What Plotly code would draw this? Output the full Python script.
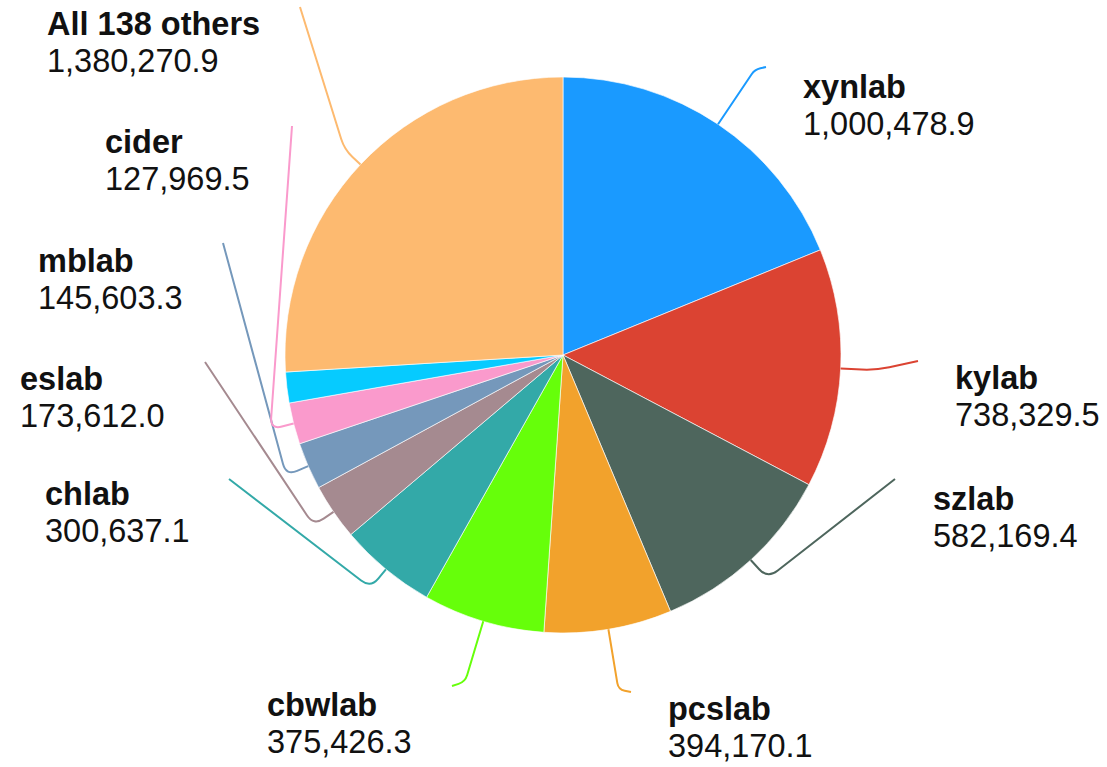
import math
import plotly.graph_objects as go

# ---------------- data ----------------
labels = ["xynlab", "kylab", "szlab", "pcslab", "cbwlab", "chlab",
          "eslab", "mblab", "cider", "(unlabeled)", "All 138 others"]
values = [1000478.9, 738329.5, 582169.4, 394170.1, 375426.3, 300637.1,
          173612.0, 145603.3, 127969.5, 95000.0, 1380270.9]
colors = ["#1A9AFF", "#DB4332", "#4E665D", "#F2A22C", "#66FF0A", "#33A9A8",
          "#A58A90", "#7598BB", "#FA9ACC", "#06CBFF", "#FDBA70"]

# ---------------- layout (pixels) ----------------
W, H = 1107, 767
CX, CY, R = 563, 355, 278

# label: (left x, top y of glyphs)
label_pos = {
    "xynlab": (803, 78), "kylab": (955, 369), "szlab": (933, 490),
    "pcslab": (668, 700), "cbwlab": (267, 696), "chlab": (45, 485),
    "eslab": (20, 370), "mblab": (38, 252), "cider": (105, 133),
    "All 138 others": (47, 15),
}
# leader: (radial length, end x, end y)
leader = {
    "xynlab": (66, 766, 67), "kylab": (35, 918, 361), "szlab": (25, 895, 479),
    "pcslab": (61, 631, 692), "cbwlab": (63, 452, 686), "chlab": (24, 229, 479),
    "eslab": (24, 205, 362), "mblab": (24, 223, 243), "cider": (24, 292, 126),
    "All 138 others": (22, 300, 7),
}

FONT = "Liberation Sans"
FS = 32.5          # glyph size
LINE_GAP = 36.6    # distance between the two lines
BASE_FS = LINE_GAP / 1.3   # annotation font size controlling line spacing
TOP_OFF = 11


def px(x, y):
    return x / W, 1 - y / H


fig = go.Figure(go.Pie(
    labels=labels, values=values, sort=False, direction="clockwise",
    rotation=0, textinfo="none", hoverinfo="label+value",
    marker=dict(colors=colors, line=dict(color="rgba(255,255,255,0.8)", width=0.8)),
    domain=dict(x=[(CX - R) / W, (CX + R) / W], y=[1 - (CY + R) / H, 1 - (CY - R) / H]),
    showlegend=False,
))

total = sum(values)
cum = 0.0
shapes = []
annotations = []
for lab, val, col in zip(labels, values, colors):
    start = cum
    cum += val
    if lab not in label_pos:
        continue
    mid = (start + val / 2) / total * 2 * math.pi
    ux, uy = math.sin(mid), -math.cos(mid)
    p0 = (CX + R * ux, CY + R * uy)
    L, ex, ey = leader[lab]
    p1 = (p0[0] + L * ux, p0[1] + L * uy)
    p2 = (ex, ey)
    v12 = (p2[0] - p1[0], p2[1] - p1[1])
    d12 = math.hypot(*v12)
    d = min(14, L / 2, d12 / 2)
    a = (p1[0] - d * ux, p1[1] - d * uy)
    b = (p1[0] + d * v12[0] / d12, p1[1] + d * v12[1] / d12)
    q = [px(*p) for p in (p0, a, p1, b, p2)]
    path = (f"M {q[0][0]:.5f},{q[0][1]:.5f} L {q[1][0]:.5f},{q[1][1]:.5f} "
            f"Q {q[2][0]:.5f},{q[2][1]:.5f} {q[3][0]:.5f},{q[3][1]:.5f} "
            f"L {q[4][0]:.5f},{q[4][1]:.5f}")
    shapes.append(dict(type="path", path=path, xref="paper", yref="paper",
                       line=dict(color=col, width=2)))
    lx, ly = label_pos[lab]
    ax, ay = px(lx - 2, ly - TOP_OFF)
    txt = (f'<span style="font-size:{FS}px"><b>{lab}</b></span><br>'
           f'<span style="font-size:{FS}px">{val:,.1f}</span>')
    annotations.append(dict(
        x=ax, y=ay, xref="paper", yref="paper", xanchor="left", yanchor="top",
        align="left", showarrow=False, text=txt,
        font=dict(family=FONT, size=BASE_FS, color="#111111"),
    ))

fig.update_layout(
    width=W, height=H, margin=dict(l=0, r=0, t=0, b=0),
    paper_bgcolor="white", plot_bgcolor="white",
    shapes=shapes, annotations=annotations,
)
fig.write_html("out.html", config={"displayModeBar": False},
               post_script="document.body.style.margin='0';document.body.style.overflow='hidden';")
